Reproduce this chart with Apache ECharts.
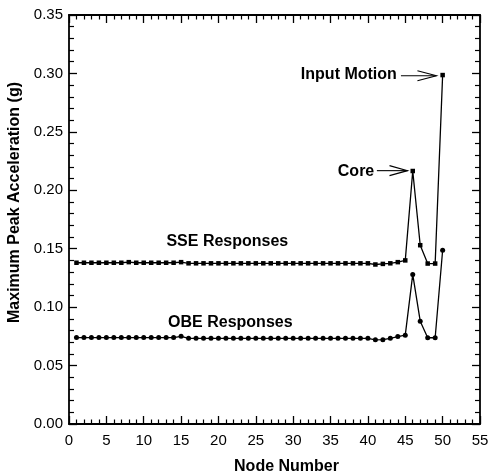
<!DOCTYPE html>
<html>
<head>
<meta charset="utf-8">
<script src="https://cdn.jsdelivr.net/npm/echarts@6/dist/echarts.min.js"></script>
<style>
  html, body { margin: 0; padding: 0; background: #fff; }
  #chart { width: 490px; height: 474px; }
</style>
</head>
<body>
<div id="chart"></div>
<script>
// ---- data ----
const nodes = [1,2,3,4,5,6,7,8,9,10,11,12,13,14,15,16,17,18,19,20,21,22,23,24,25,26,27,28,29,30,31,32,33,34,35,36,37,38,39,40,41,42,43,44,45,46,47,48,49,50];
const sseValues = [0.138,0.138,0.138,0.138,0.138,0.138,0.138,0.1385,0.138,0.138,0.138,0.138,0.138,0.138,0.1385,0.1375,0.1375,0.1375,0.1375,0.1375,0.1375,0.1375,0.1375,0.1375,0.1375,0.1375,0.1375,0.1375,0.1375,0.1375,0.1375,0.1375,0.1375,0.1375,0.1375,0.1375,0.1375,0.1375,0.1375,0.1375,0.1365,0.137,0.1375,0.1385,0.140,0.2165,0.153,0.1373,0.1373,0.2986];
const obeValues = [0.074,0.074,0.074,0.074,0.074,0.074,0.074,0.074,0.074,0.074,0.074,0.074,0.074,0.074,0.075,0.0733,0.0733,0.0733,0.0733,0.0733,0.0733,0.0733,0.0733,0.0733,0.0733,0.0733,0.0733,0.0733,0.0733,0.0733,0.0733,0.0733,0.0733,0.0733,0.0733,0.0733,0.0733,0.0733,0.0733,0.0733,0.072,0.0722,0.0733,0.0748,0.076,0.128,0.088,0.0738,0.0738,0.1487];
const xTicks = [0,5,10,15,20,25,30,35,40,45,50,55];
const yTicks = [0.00,0.05,0.10,0.15,0.20,0.25,0.30,0.35];
const seriesNames = ['SSE Responses','OBE Responses'];
const annotationTexts = ['Input Motion','Core'];

const FONT = '"Liberation Sans", Arial, Helvetica, sans-serif';
const chart = echarts.init(document.getElementById('chart'), null, {renderer: 'canvas'});

const axisLine = {show: true, onZero: false, lineStyle: {color: '#000', width: 1.8}};
function xAxisDef(pos, showLabels) {
  return {
    type: 'value', position: pos, min: xTicks[0], max: xTicks[xTicks.length-1], interval: 5,
    axisLine: axisLine,
    axisTick: {show: true, inside: true, length: 8, lineStyle: {color: '#000', width: 1.3}},
    minorTick: {show: true, splitNumber: 5, length: 4.5, lineStyle: {color: '#000', width: 1.2}},
    splitLine: {show: false}, minorSplitLine: {show: false},
    axisLabel: {show: showLabels, color: '#000', fontFamily: FONT, fontSize: 15, margin: 9},
    name: showLabels ? 'Node Number' : '',
    nameLocation: 'middle', nameGap: 35,
    nameTextStyle: {color: '#000', fontFamily: FONT, fontSize: 16, fontWeight: 'bold', padding: [0,0,0,24]}
  };
}
function yAxisDef(pos, showLabels) {
  return {
    type: 'value', position: pos, min: yTicks[0], max: yTicks[yTicks.length-1], interval: 0.05,
    axisLine: axisLine,
    axisTick: {show: true, inside: true, length: 8, lineStyle: {color: '#000', width: 1.3}},
    minorTick: {show: true, splitNumber: 5, length: 5, lineStyle: {color: '#000', width: 1.2}},
    splitLine: {show: false}, minorSplitLine: {show: false},
    axisLabel: {show: showLabels, color: '#000', fontFamily: FONT, fontSize: 15, margin: 6,
      formatter: v => v.toFixed(2)},
    name: showLabels ? 'Maximum Peak Acceleration (g)' : '',
    nameLocation: 'middle', nameGap: 41,
    nameTextStyle: {color: '#000', fontFamily: FONT, fontSize: 16, fontWeight: 'bold', padding: [0,0,0,34]}
  };
}

chart.setOption({
  animation: false,
  backgroundColor: '#fff',
  grid: {left: 69, right: 10, top: 15, bottom: 50, containLabel: false, outerBoundsMode: 'none'},
  xAxis: [xAxisDef('bottom', true), xAxisDef('top', false)],
  yAxis: [yAxisDef('left', true), yAxisDef('right', false)],
  series: [
    {name: seriesNames[0], type: 'line', xAxisIndex: 0, yAxisIndex: 0,
     data: nodes.map((n, i) => [n, sseValues[i]]),
     symbol: 'rect', symbolSize: 4.5, showAllSymbol: true,
     lineStyle: {color: '#000', width: 1.3}, itemStyle: {color: '#000'}},
    {name: seriesNames[1], type: 'line', xAxisIndex: 0, yAxisIndex: 0,
     data: nodes.map((n, i) => [n, obeValues[i]]),
     symbol: 'circle', symbolSize: 5, showAllSymbol: true,
     lineStyle: {color: '#000', width: 1.3}, itemStyle: {color: '#000'}}
  ]
});

// ---- annotations, placed in data coordinates ----
function px(x, y) { return chart.convertToPixel({xAxisIndex: 0, yAxisIndex: 0}, [x, y]); }
const textStyleBold = {fill: '#000', fontFamily: FONT, fontSize: 16, fontWeight: 'bold'};
function label(text, x, y, align) {
  const p = px(x, y);
  return {type: 'text', x: p[0], y: p[1], silent: true,
    style: Object.assign({text: text, align: align, verticalAlign: 'middle'}, textStyleBold)};
}
function arrow(x0, x1, y, headLen, headHalf) {
  const a = px(x0, y), b = px(x1, y);
  return [
    {type: 'line', silent: true, shape: {x1: a[0], y1: a[1], x2: b[0], y2: b[1]}, style: {stroke: '#000', lineWidth: 1.1}},
    {type: 'polyline', silent: true, shape: {points: [[b[0]-headLen, b[1]-headHalf], [b[0], b[1]], [b[0]-headLen, b[1]+headHalf]]},
     style: {stroke: '#000', lineWidth: 1.1, fill: null}}
  ];
}
const g = [];
g.push(label(annotationTexts[0], 43.87, 0.2987, 'right'));
g.push(...arrow(44.42, 49.17, 0.298, 19, 5));
g.push(label(annotationTexts[1], 40.85, 0.2156, 'right'));
g.push(...arrow(41.2, 45.3, 0.2168, 18, 5));
g.push(label(seriesNames[0], 13.04, 0.1558, 'left'));
g.push(label(seriesNames[1], 13.26, 0.0866, 'left'));
chart.setOption({graphic: g});
</script>
</body>
</html>
